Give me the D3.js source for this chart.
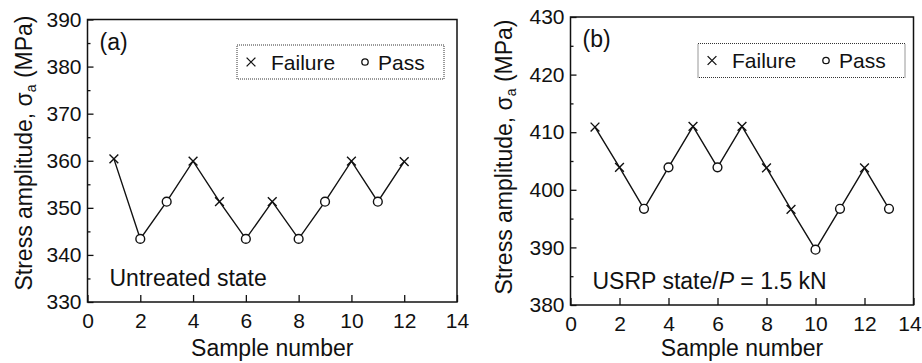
<!DOCTYPE html>
<html>
<head>
<meta charset="utf-8">
<script src="https://cdn.jsdelivr.net/npm/d3@7"></script>
<style>
  body { margin: 0; background: #fff; }
  svg { display: block; }
  text { font-family: "Liberation Sans", Arial, sans-serif; fill: #111; }
</style>
</head>
<body>
<div class="vis-holder"></div>
<script>
const width = 922;
const height = 363;

// panel (a): untreated state
const samplesA = [1, 2, 3, 4, 5, 6, 7, 8, 9, 10, 11, 12];
const stressA = [360.4, 343.4, 351.3, 359.9, 351.3, 343.4, 351.3, 343.4, 351.3, 359.9, 351.3, 359.8];
const resultA = ["F", "P", "P", "F", "F", "P", "F", "P", "P", "F", "P", "F"];

// panel (b): USRP state, P = 1.5 kN
const samplesB = [1, 2, 3, 4, 5, 6, 7, 8, 9, 10, 11, 12, 13];
const stressB = [410.9, 403.9, 396.7, 403.9, 411.0, 403.9, 411.0, 403.8, 396.6, 389.6, 396.7, 403.8, 396.7];
const resultB = ["F", "F", "P", "P", "F", "P", "F", "F", "F", "P", "P", "F", "P"];

const xTicks = [0, 2, 4, 6, 8, 10, 12, 14];
const yTicksA = [330, 340, 350, 360, 370, 380, 390];
const yTicksB = [380, 390, 400, 410, 420, 430];

const svg = d3.select(".vis-holder").append("svg")
    .attr("width", width)
    .attr("height", height);

function drawPanel(p) {
    const x = d3.scaleLinear().domain([0, 14]).range([p.left, p.right]);
    const y = d3.scaleLinear().domain(p.yDomain).range([p.bottom, p.top]);
    const g = svg.append("g");

    // frame
    g.append("rect")
        .attr("x", p.left).attr("y", p.top)
        .attr("width", p.right - p.left).attr("height", p.bottom - p.top)
        .attr("fill", "none").attr("stroke", "#111").attr("stroke-width", 1.5);

    // x axis, ticks pointing inward
    const xAxis = g.append("g")
        .attr("transform", `translate(0,${p.bottom})`)
        .call(d3.axisBottom(x).tickValues(xTicks).tickSize(-7).tickPadding(11));
    xAxis.select(".domain").remove();
    xAxis.selectAll(".tick line").attr("stroke", "#111").attr("stroke-width", 1.3);
    xAxis.selectAll(".tick text").attr("font-size", 21).style("font-family", "Liberation Sans, Arial, sans-serif");
    // keep the last label inside the page
    xAxis.selectAll(".tick text").filter(d => d === 14).attr("dx", p.lastDx);

    // y minor ticks
    const minor = d3.range(p.yDomain[0] + 5, p.yDomain[1], 10);
    g.append("g")
        .attr("transform", `translate(${p.left},0)`)
        .call(d3.axisLeft(y).tickValues(minor).tickSize(-3).tickFormat(""))
        .call(a => a.select(".domain").remove())
        .selectAll(".tick line").attr("stroke", "#111").attr("stroke-width", 1.3);

    // y axis, ticks pointing inward
    const yAxis = g.append("g")
        .attr("transform", `translate(${p.left},0)`)
        .call(d3.axisLeft(y).tickValues(p.yTicks).tickSize(-6).tickPadding(6));
    yAxis.select(".domain").remove();
    yAxis.selectAll(".tick line").attr("stroke", "#111").attr("stroke-width", 1.3);
    yAxis.selectAll(".tick text").attr("font-size", 21).style("font-family", "Liberation Sans, Arial, sans-serif");

    // connecting line
    const pts = p.samples.map((s, i) => ({ s: s, v: p.stress[i], r: p.result[i] }));
    g.append("path")
        .datum(pts)
        .attr("fill", "none").attr("stroke", "#111").attr("stroke-width", 1.4)
        .attr("d", d3.line().x(d => x(d.s)).y(d => y(d.v)));

    // markers
    const cross = d3.symbol().type(d3.symbolX).size(52);
    g.selectAll(".fail").data(pts.filter(d => d.r === "F")).enter()
        .append("path")
        .attr("transform", d => `translate(${x(d.s)},${y(d.v)})`)
        .attr("d", cross)
        .attr("stroke", "#111").attr("stroke-width", 1.4).attr("fill", "none");
    g.selectAll(".pass").data(pts.filter(d => d.r === "P")).enter()
        .append("circle")
        .attr("cx", d => x(d.s)).attr("cy", d => y(d.v)).attr("r", 4.4)
        .attr("fill", "#fff").attr("stroke", "#111").attr("stroke-width", 1.4);

    // axis titles
    g.append("text")
        .attr("x", (p.left + p.right) / 2).attr("y", 356)
        .attr("text-anchor", "middle").attr("font-size", 23)
        .text("Sample number");
    const yt = g.append("text")
        .attr("transform", `translate(${p.titleX},${p.titleY}) rotate(-90)`)
        .attr("text-anchor", "middle").attr("font-size", 23);
    yt.append("tspan").text("Stress amplitude, σ");
    yt.append("tspan").attr("font-size", 14).attr("dy", 4).text("a");
    yt.append("tspan").attr("dy", -4).text(" (MPa)");

    // panel tag and state label
    g.append("text").attr("x", p.left + 12).attr("y", p.top + 30)
        .attr("font-size", 23).text(p.tag);
    const st = g.append("text").attr("x", p.left + 22).attr("y", p.bottom - 16)
        .attr("font-size", 23);
    p.label.forEach(part => {
        st.append("tspan").attr("font-style", part.italic ? "italic" : "normal").text(part.t);
    });

    // legend
    const lg = g.append("g").attr("transform", `translate(${p.legendX},${p.legendY})`);
    lg.append("rect").attr("width", 207).attr("height", 34)
        .attr("fill", "none").attr("stroke", "#333").attr("stroke-width", 1)
        .attr("stroke-dasharray", "1,1");
    lg.append("path").attr("transform", "translate(14,17)").attr("d", cross)
        .attr("stroke", "#111").attr("stroke-width", 1.3).attr("fill", "none");
    lg.append("text").attr("x", 34).attr("y", 24.5).attr("font-size", 21).text("Failure");
    lg.append("circle").attr("cx", 128).attr("cy", 17).attr("r", 3.2)
        .attr("fill", "#fff").attr("stroke", "#111").attr("stroke-width", 1.3);
    lg.append("text").attr("x", 141).attr("y", 24.5).attr("font-size", 21).text("Pass");
}

drawPanel({
    left: 87.5, right: 457, top: 19.5, bottom: 302,
    yDomain: [330, 390], yTicks: yTicksA,
    samples: samplesA, stress: stressA, result: resultA,
    titleX: 32, titleY: 153, tag: "(a)", lastDx: 0,
    label: [{ t: "Untreated state" }],
    legendX: 237, legendY: 45
});

drawPanel({
    left: 570.5, right: 913.5, top: 17, bottom: 305,
    yDomain: [380, 430], yTicks: yTicksB,
    samples: samplesB, stress: stressB, result: resultB,
    titleX: 512, titleY: 157, tag: "(b)", lastDx: -4,
    label: [{ t: "USRP state/" }, { t: "P", italic: true }, { t: " = 1.5 kN" }],
    legendX: 698, legendY: 43.5
});
</script>
</body>
</html>
